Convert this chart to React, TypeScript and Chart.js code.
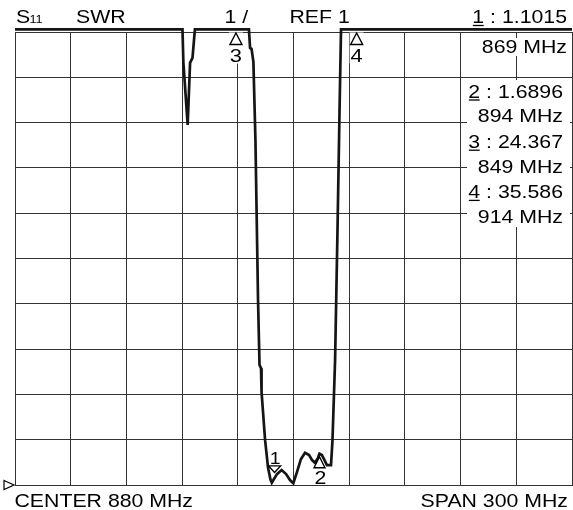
import { useEffect, useRef } from "react";
import { Chart, registerables } from "chart.js";

Chart.register(...registerables);

// ---- instrument settings ----
const centerMHz = 880;
const spanMHz = 300;
const refValue = 1;
const perDiv = 1;
const divisions = 10;

// ---- trace (S11 SWR); clipped values sit at the top edge ----
const traceFreqMHz = [
  730, 820.2, 820.7, 823.0, 824.3, 825.6, 826.9, 856.0, 856.6, 857.4, 858.4,
  859.5, 860.9, 861.7, 862.5, 862.8, 864.7, 866.3, 867.6, 868.3, 869, 871.1,
  873.6, 876.0, 878.1, 879.9, 881.9, 884.0, 886.2, 888.4, 890.0, 891.6, 893.2,
  894, 895.3, 896.7, 898.0, 900.2, 901.0, 902.4, 903.7, 904.8, 905.6, 1030,
];
const traceSwr = [
  11.06, 11.06, 10.32, 8.95, 10.32, 10.43, 11.06, 11.06, 10.65, 10.63, 10.34,
  8.62, 5.08, 3.65, 3.58, 3.05, 1.99, 1.38, 1.12, 1.05, 1.1, 1.24,
  1.33, 1.24, 1.11, 1.04, 1.29, 1.57, 1.71, 1.66, 1.55, 1.49, 1.6,
  1.69, 1.66, 1.55, 1.44, 1.44, 1.99, 3.76, 6.63, 9.28, 11.06, 11.06,
];

// ---- markers ----
const markerIds = [1, 2, 3, 4];
const markerFreqMHz = [869, 894, 849, 914];
const markerSwr = [1.1015, 1.6896, 24.367, 35.586];
const markerPointsUp = [false, true, true, true];

const FONT = '"Liberation Sans", Arial, sans-serif';
const SX = 1.15;
const INK = "#000";

function drawText(
  ctx: CanvasRenderingContext2D,
  s: string,
  x: number,
  y: number,
  align: "left" | "right" | "center",
  size: number
) {
  ctx.save();
  ctx.font = `${size}px ${FONT}`;
  ctx.textBaseline = "alphabetic";
  ctx.textAlign = "left";
  const w = ctx.measureText(s).width * SX;
  const x0 = align === "left" ? x : align === "right" ? x - w : x - w / 2;
  ctx.translate(x0, y);
  ctx.scale(SX, 1);
  ctx.fillStyle = INK;
  ctx.fillText(s, 0, 0);
  ctx.restore();
  return { x0, w };
}

function charWidth(ctx: CanvasRenderingContext2D, s: string, size: number) {
  ctx.save();
  ctx.font = `${size}px ${FONT}`;
  const w = ctx.measureText(s).width * SX;
  ctx.restore();
  return w;
}

function triangle(ctx: CanvasRenderingContext2D, pts: [number, number][]) {
  ctx.save();
  ctx.beginPath();
  ctx.moveTo(pts[0][0], pts[0][1]);
  ctx.lineTo(pts[1][0], pts[1][1]);
  ctx.lineTo(pts[2][0], pts[2][1]);
  ctx.closePath();
  ctx.fillStyle = "#fff";
  ctx.fill();
  ctx.strokeStyle = INK;
  ctx.lineWidth = 1.4;
  ctx.stroke();
  ctx.restore();
}

const annotations = {
  id: "vnaAnnotations",
  beforeDatasetsDraw(chart: any) {
    const ctx: CanvasRenderingContext2D = chart.ctx;
    const xs = chart.scales.x;
    const ca = chart.chartArea;
    ctx.save();
    ctx.fillStyle = "#fff";
    ctx.fillRect(479, 38, 91, 18);
    ctx.fillRect(467, 80, 103, 147);
    const top = refValue + perDiv * divisions;
    markerIds.forEach((id, i) => {
      if (markerSwr[i] > top) {
        const px = xs.getPixelForValue(markerFreqMHz[i]);
        ctx.fillRect(px - 7, ca.top + 0.5, 14, 31);
      }
    });
    ctx.restore();
  },
  afterDatasetsDraw(chart: any) {
    const ctx: CanvasRenderingContext2D = chart.ctx;
    const xs = chart.scales.x;
    const ys = chart.scales.y;
    const ca = chart.chartArea;
    const top = refValue + perDiv * divisions;

    // header
    drawText(ctx, "S", 16, 22.7, "left", 18.5);
    drawText(ctx, "11", 29.5, 22.7, "left", 11);
    drawText(ctx, "SWR", 76, 22.7, "left", 18.5);
    drawText(ctx, `${perDiv} /`, 224.5, 22.7, "left", 18.5);
    drawText(ctx, `REF ${refValue}`, 289.5, 22.7, "left", 18.5);

    // footer
    drawText(ctx, `CENTER ${centerMHz} MHz`, 14.5, 506.5, "left", 18.5);
    drawText(ctx, `SPAN ${spanMHz} MHz`, 568, 506.5, "right", 18.5);

    // readouts
    const rows: { s: string; y: number; right: number; underline: boolean }[] = [];
    markerIds.forEach((id, i) => {
      if (i === 0) {
        rows.push({ s: `${id} : ${markerSwr[i].toPrecision(5)}`, y: 23.2, right: 567, underline: true });
        rows.push({ s: `${markerFreqMHz[i]} MHz`, y: 52.5, right: 567, underline: false });
      } else {
        const base = 97.7 + (i - 1) * 50.2;
        rows.push({ s: `${id} : ${markerSwr[i].toPrecision(5)}`, y: base, right: 563, underline: true });
        rows.push({ s: `${markerFreqMHz[i]} MHz`, y: base + 24.6, right: 563, underline: false });
      }
    });
    rows.forEach((r) => {
      const { x0 } = drawText(ctx, r.s, r.right, r.y, "right", 18.5);
      if (r.underline) {
        const cw = charWidth(ctx, r.s[0], 18.5);
        ctx.save();
        ctx.strokeStyle = INK;
        ctx.lineWidth = 1.3;
        ctx.beginPath();
        ctx.moveTo(x0 + 0.5, r.y + 2.3);
        ctx.lineTo(x0 + cw - 0.5, r.y + 2.3);
        ctx.stroke();
        ctx.restore();
      }
    });

    // markers on the trace
    markerIds.forEach((id, i) => {
      const px = xs.getPixelForValue(markerFreqMHz[i]);
      const off = markerSwr[i] > top;
      if (off) {
        const tipY = ca.top + 1;
        triangle(ctx, [[px, tipY], [px - 6, tipY + 11.5], [px + 6, tipY + 11.5]]);
        drawText(ctx, String(id), px, ca.top + 29.5, "center", 19);
      } else {
        const py = ys.getPixelForValue(markerSwr[i]);
        if (markerPointsUp[i]) {
          const tipY = py + 3;
          triangle(ctx, [[px, tipY], [px - 5.5, tipY + 11], [px + 5.5, tipY + 11]]);
          drawText(ctx, String(id), px + 1, tipY + 27, "center", 18.5);
        } else {
          const tipY = py - 8;
          triangle(ctx, [[px + 1.5, tipY], [px - 4.5, tipY - 6.5], [px + 7.5, tipY - 6.5]]);
          drawText(ctx, String(id), px + 2, tipY - 8.5, "center", 17);
        }
      }
    });

    // reference position marker
    const ry = ys.getPixelForValue(refValue);
    ctx.save();
    ctx.beginPath();
    ctx.moveTo(ca.left - 11, ry - 4.5);
    ctx.lineTo(ca.left - 1, ry);
    ctx.lineTo(ca.left - 11, ry + 4.5);
    ctx.closePath();
    ctx.fillStyle = "#fff";
    ctx.fill();
    ctx.strokeStyle = INK;
    ctx.lineWidth = 1.2;
    ctx.stroke();
    ctx.restore();
  },
};

export default function App() {
  const ref = useRef<HTMLCanvasElement | null>(null);
  useEffect(() => {
    if (!ref.current) return;
    const data = traceFreqMHz.map((f, i) => ({ x: f, y: traceSwr[i] }));
    const gridColor = "#333";
    const chart = new Chart(ref.current, {
      type: "line",
      data: {
        datasets: [
          {
            data,
            borderColor: "#151515",
            borderWidth: 2.7,
            pointRadius: 0,
            tension: 0,
            fill: false,
            clip: false as any,
          },
        ],
      },
      options: {
        responsive: false,
        maintainAspectRatio: false,
        animation: false,
        events: [],
        layout: { padding: { left: 15, right: 1, top: 32, bottom: 25 } },
        plugins: { legend: { display: false }, tooltip: { enabled: false } },
        scales: {
          x: {
            type: "linear",
            min: centerMHz - spanMHz / 2,
            max: centerMHz + spanMHz / 2,
            ticks: { stepSize: spanMHz / divisions, display: false },
            grid: { color: gridColor, lineWidth: 1, drawTicks: false },
            border: { color: gridColor, width: 1 },
          },
          y: {
            type: "linear",
            min: refValue,
            max: refValue + perDiv * divisions,
            ticks: { stepSize: perDiv, display: false },
            grid: { color: gridColor, lineWidth: 1, drawTicks: false },
            border: { color: gridColor, width: 1 },
          },
        },
      },
      plugins: [annotations],
    });
    return () => chart.destroy();
  }, []);
  return (
    <div style={{ position: "absolute", left: 0, top: 0, width: 573, height: 510, background: "#fff" }}>
      <canvas ref={ref} width={573} height={510} style={{ display: "block", width: 573, height: 510 }} />
    </div>
  );
}
